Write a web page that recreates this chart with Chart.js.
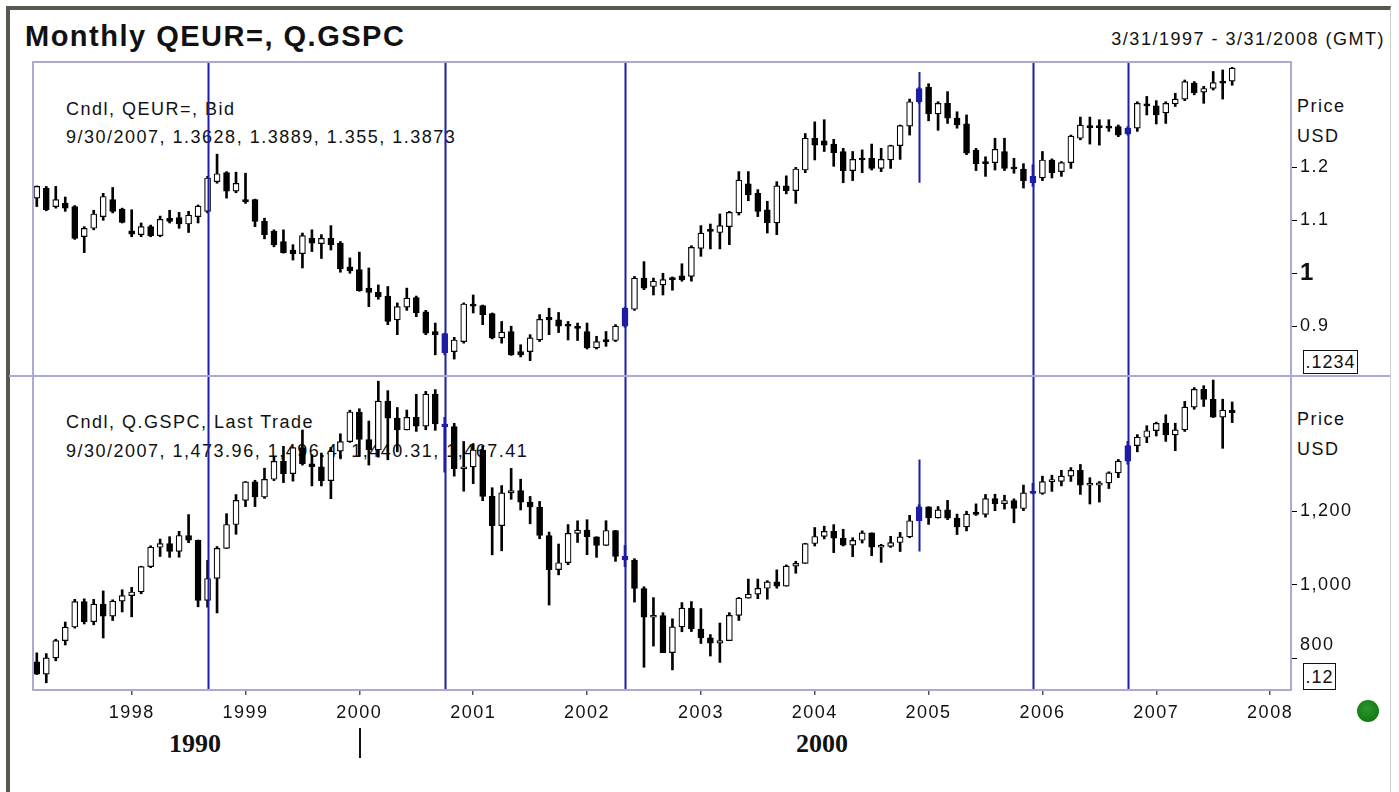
<!DOCTYPE html>
<html>
<head>
<meta charset="utf-8">
<script src="https://cdn.jsdelivr.net/npm/chart.js@4.4.1/dist/chart.umd.min.js"></script>
<style>
  html, body { margin: 0; padding: 0; background: #fff; }
  #page { position: relative; width: 1399px; height: 792px; overflow: hidden;
          font-family: 'Liberation Sans', Arial, sans-serif; color: #111; letter-spacing: 1.5px; }
  .t { position: absolute; white-space: nowrap; line-height: 1; }
  #frame { position: absolute; left: 6px; top: 6px; width: 1380px; height: 800px;
           border-top: 4px solid #58584f; border-left: 4px solid #58584f; border-right: 1px solid #cfcfcf; }
  .box { position: absolute; box-sizing: border-box; border: 1.5px solid #111; font-size: 18px;
         line-height: 1; letter-spacing: 1px; display: flex; align-items: center; justify-content: center; }
  .era { position: absolute; font-family: 'Liberation Serif', 'Times New Roman', serif; font-weight: bold;
         font-size: 26px; line-height: 1; letter-spacing: 0; }
  #chart { position: absolute; left: 0; top: 0; }
</style>
</head>
<body>
<div id="page">
  <div id="frame"></div>
  <div class="t" style="left:25px; top:22px; font-size:29px; font-weight:bold;">Monthly QEUR=, Q.GSPC</div>
  <div class="t" style="right:14px; top:30px; font-size:18px;">3/31/1997 - 3/31/2008 (GMT)</div>

  <div class="t" style="left:66px; top:100px; font-size:18px;">Cndl, QEUR=, Bid</div>
  <div class="t" style="left:66px; top:128px; font-size:18px;">9/30/2007, 1.3628, 1.3889, 1.355, 1.3873</div>
  <div class="t" style="left:66px; top:413px; font-size:18px;">Cndl, Q.GSPC, Last Trade</div>
  <div class="t" style="left:66px; top:442px; font-size:18px;">9/30/2007, 1,473.96, 1,496.4, 1,440.31, 1,467.41</div>

  <div class="t" style="left:1297px; top:97px; font-size:18px;">Price</div>
  <div class="t" style="left:1297px; top:127px; font-size:18px;">USD</div>
  <div class="t" style="left:1297px; top:410px; font-size:18px;">Price</div>
  <div class="t" style="left:1297px; top:440px; font-size:18px;">USD</div>
  <div class="box" style="left:1303px; top:350px; width:55px; height:24px;">.1234</div>
  <div class="box" style="left:1303px; top:663px; width:33px; height:27px;">.12</div>

  <div class="era" style="left:169px; top:731px;">1990</div>
  <div class="era" style="left:796px; top:731px;">2000</div>
  <div style="position:absolute; left:359px; top:728px; width:2px; height:30px; background:#111;"></div>
  <div style="position:absolute; left:1357px; top:700px; width:22px; height:22px; border-radius:50%;
              background: radial-gradient(circle at 45% 40%, #2a9a2a, #0b6a0b);"></div>

  <canvas id="chart" width="1399" height="792"></canvas>
</div>

<script>
// monthly candles, Mar 1997 .. Sep 2007
const eurOpen = [1.142,1.161,1.126,1.132,1.126,1.069,1.085,1.107,1.139,1.121,1.080,1.073,1.088,1.071,1.104,1.105,1.093,1.107,
  1.117,1.173,1.190,1.155,1.139,1.139,1.098,1.079,1.060,1.044,1.037,1.066,1.056,1.066,1.057,1.012,1.007,0.972,0.964,0.957,
  0.912,0.936,0.954,0.927,0.890,0.886,0.852,0.871,0.940,0.939,0.924,0.878,0.890,0.852,0.852,0.874,0.917,0.912,0.903,0.900,
  0.890,0.859,0.874,0.873,0.900,0.932,0.991,0.975,0.978,0.991,0.995,0.994,1.047,1.082,1.077,1.088,1.114,1.169,1.151,1.120,
  1.095,1.165,1.156,1.195,1.255,1.250,1.244,1.230,1.194,1.217,1.217,1.198,1.214,1.241,1.278,1.324,1.351,1.301,1.321,1.293,
  1.282,1.232,1.211,1.209,1.230,1.200,1.197,1.171,1.180,1.214,1.192,1.209,1.255,1.278,1.278,1.278,1.277,1.263,1.274,1.320,
  1.316,1.303,1.320,1.329,1.359,1.342,1.349,1.362,1.3628];
const eurHigh = [1.165,1.164,1.164,1.144,1.128,1.088,1.119,1.151,1.162,1.123,1.120,1.095,1.091,1.108,1.119,1.115,1.117,1.129,
  1.183,1.225,1.192,1.191,1.189,1.140,1.104,1.082,1.082,1.054,1.076,1.082,1.073,1.090,1.060,1.029,1.040,1.010,0.978,0.975,
  0.944,0.972,0.957,0.930,0.906,0.887,0.879,0.944,0.959,0.940,0.925,0.909,0.900,0.865,0.884,0.922,0.934,0.926,0.909,0.906,
  0.906,0.881,0.890,0.903,0.936,0.994,1.022,0.991,1.000,0.993,1.018,1.052,1.090,1.093,1.112,1.117,1.192,1.192,1.158,1.136,
  1.173,1.184,1.200,1.264,1.286,1.290,1.253,1.236,1.230,1.233,1.244,1.236,1.242,1.280,1.329,1.351,1.358,1.324,1.343,1.305,
  1.299,1.236,1.220,1.255,1.255,1.217,1.207,1.205,1.230,1.216,1.211,1.261,1.295,1.295,1.290,1.290,1.280,1.277,1.324,1.334,
  1.326,1.324,1.340,1.365,1.362,1.353,1.381,1.384,1.3889];
const eurLow = [1.126,1.118,1.123,1.117,1.064,1.039,1.082,1.100,1.114,1.095,1.069,1.069,1.069,1.069,1.095,1.085,1.077,1.095,
  1.114,1.170,1.142,1.152,1.132,1.088,1.065,1.050,1.038,1.025,1.010,1.041,1.028,1.044,1.002,1.000,0.966,0.937,0.951,0.903,
  0.884,0.930,0.918,0.884,0.846,0.846,0.838,0.868,0.925,0.903,0.876,0.868,0.845,0.842,0.835,0.871,0.884,0.888,0.874,0.873,
  0.857,0.857,0.862,0.871,0.898,0.930,0.969,0.959,0.959,0.968,0.985,0.985,1.032,1.046,1.046,1.054,1.110,1.137,1.107,1.076,
  1.073,1.150,1.132,1.190,1.214,1.230,1.202,1.171,1.175,1.190,1.195,1.192,1.198,1.215,1.261,1.321,1.288,1.270,1.283,1.274,
  1.224,1.194,1.183,1.195,1.194,1.189,1.161,1.164,1.175,1.180,1.183,1.198,1.252,1.244,1.242,1.268,1.258,1.261,1.268,1.299,
  1.282,1.283,1.315,1.326,1.337,1.321,1.346,1.329,1.355];
const eurClose = [1.164,1.120,1.139,1.123,1.066,1.085,1.112,1.145,1.117,1.096,1.074,1.088,1.071,1.102,1.098,1.093,1.110,1.127,
  1.180,1.188,1.155,1.170,1.135,1.098,1.073,1.054,1.039,1.037,1.071,1.057,1.066,1.054,1.008,1.005,0.967,0.964,0.956,0.909,
  0.937,0.953,0.925,0.887,0.884,0.850,0.874,0.942,0.938,0.922,0.878,0.889,0.846,0.846,0.878,0.913,0.912,0.900,0.900,0.896,
  0.859,0.871,0.871,0.900,0.934,0.991,0.972,0.985,0.988,0.988,0.988,1.049,1.076,1.079,1.090,1.115,1.176,1.148,1.117,1.095,
  1.165,1.156,1.197,1.255,1.242,1.242,1.228,1.194,1.215,1.214,1.198,1.215,1.241,1.279,1.324,1.349,1.301,1.321,1.293,1.280,
  1.227,1.207,1.207,1.234,1.198,1.197,1.175,1.183,1.214,1.190,1.209,1.259,1.280,1.275,1.275,1.274,1.261,1.274,1.321,1.316,
  1.299,1.321,1.329,1.362,1.341,1.349,1.360,1.359,1.3873];

const spxOpen = [790.8,757.1,801.3,848.3,885.1,954.3,899.5,947.3,914.6,955.4,970.4,980.3,1049.3,1101.8,1111.8,1090.8,1133.8,1120.7,
  957.3,1017.0,1098.7,1163.6,1229.2,1279.6,1238.3,1286.4,1335.2,1301.8,1372.7,1328.7,1320.4,1282.7,1362.9,1388.9,1469.3,1394.5,1366.4,1498.6,
  1452.4,1420.6,1454.6,1430.8,1517.7,1436.5,1429.4,1315.0,1320.3,1366.0,1239.9,1160.3,1249.5,1255.8,1224.4,1211.2,1133.6,1040.9,1059.8,1139.5,
  1148.1,1130.2,1106.7,1147.4,1076.9,1067.1,989.8,911.6,916.1,815.3,885.8,936.3,879.8,855.7,841.2,848.2,916.9,963.6,974.5,990.3,
  1008.0,996.0,1050.7,1058.2,1111.9,1131.1,1144.9,1126.2,1107.3,1120.7,1140.8,1101.7,1104.2,1114.6,1130.2,1173.8,1211.9,1181.3,1203.6,1180.6,
  1156.9,1191.5,1191.3,1234.2,1220.3,1228.8,1207.0,1249.5,1248.3,1280.1,1280.7,1294.8,1310.6,1270.1,1270.2,1276.7,1303.8,1335.9,1377.9,1400.6,
  1418.3,1438.2,1406.8,1420.9,1482.4,1530.6,1503.4,1455.3,1473.96];
const spxHigh = [814.9,812.9,851.9,898.7,960.3,961.6,960.4,983.1,959.1,986.3,992.7,1050.3,1105.7,1124.0,1130.5,1145.1,1190.6,1121.5,
  1066.1,1103.8,1193.0,1244.9,1280.4,1283.8,1316.6,1347.8,1376.0,1372.9,1420.3,1353.1,1357.7,1373.2,1410.0,1474.0,1478.0,1444.6,1552.9,1527.2,
  1481.5,1474.5,1517.3,1525.2,1530.1,1454.8,1438.5,1389.1,1383.4,1376.4,1263.5,1269.3,1315.9,1286.6,1239.8,1226.3,1143.0,1110.6,1163.4,1173.6,
  1176.6,1130.2,1173.9,1147.8,1106.6,1070.8,994.5,965.0,924.0,907.4,951.6,954.3,935.1,864.6,895.9,924.2,965.4,1015.3,1015.4,1011.0,
  1040.3,1053.8,1063.7,1112.6,1155.4,1159.0,1163.2,1150.6,1127.7,1146.3,1140.8,1109.7,1131.5,1142.1,1188.5,1217.3,1211.9,1212.4,1229.1,1191.9,
  1199.6,1219.6,1245.2,1245.9,1243.1,1233.3,1270.6,1275.8,1294.9,1297.6,1310.9,1318.2,1326.7,1290.7,1280.4,1306.7,1340.3,1389.5,1407.9,1431.8,
  1441.6,1461.6,1438.9,1498.0,1535.6,1540.6,1555.9,1503.9,1496.4];
const spxLow = [756.1,733.5,793.2,836.3,882.1,893.4,891.0,855.3,902.8,926.0,912.8,975.3,1046.4,1076.7,1074.4,1074.7,1114.3,940.0,
  939.0,923.3,1098.7,1137.0,1212.2,1212.2,1234.6,1282.8,1277.3,1281.4,1324.9,1268.4,1268.4,1233.7,1343.0,1386.8,1350.1,1325.1,1346.6,1339.4,
  1361.1,1420.6,1416.5,1421.0,1419.4,1305.8,1294.9,1254.1,1274.6,1228.3,1081.2,1092.0,1232.0,1203.0,1165.5,1124.9,944.8,1026.8,1054.3,1114.9,
  1081.7,1074.4,1106.7,1063.5,1049.0,952.9,775.7,833.4,815.3,768.6,872.2,872.7,840.3,806.3,788.9,847.9,902.8,963.6,962.1,960.8,
  990.4,996.0,1031.2,1058.2,1105.1,1124.4,1087.2,1105.3,1076.3,1113.3,1078.8,1060.7,1101.3,1090.2,1127.6,1173.8,1163.8,1181.0,1176.9,1136.2,
  1146.2,1188.3,1183.6,1201.1,1205.4,1168.2,1201.1,1246.6,1245.7,1253.6,1268.4,1280.7,1245.3,1219.3,1224.5,1261.3,1290.9,1327.1,1361.0,1385.9,
  1404.0,1389.4,1364.0,1416.4,1476.7,1484.2,1454.3,1370.6,1440.31];
const spxClose = [757.1,801.3,848.3,885.1,954.3,899.5,947.3,914.6,955.4,970.4,980.3,1049.3,1101.8,1111.8,1090.8,1133.8,1120.7,957.3,
  1017.0,1098.7,1163.6,1229.2,1279.6,1238.3,1286.4,1335.2,1301.8,1372.7,1328.7,1320.4,1282.7,1362.9,1388.9,1469.3,1394.5,1366.4,1498.6,1452.4,
  1420.6,1454.6,1430.8,1517.7,1436.5,1429.4,1315.0,1320.3,1366.0,1239.9,1160.3,1249.5,1255.8,1224.4,1211.2,1133.6,1040.9,1059.8,1139.5,1148.1,
  1130.2,1106.7,1147.4,1076.9,1067.1,989.8,911.6,916.1,815.3,885.8,936.3,879.8,855.7,841.2,848.2,916.9,963.6,974.5,990.3,1008.0,
  996.0,1050.7,1058.2,1111.9,1131.1,1144.9,1126.2,1107.3,1120.7,1140.8,1101.7,1104.2,1114.6,1130.2,1173.8,1211.9,1181.3,1203.6,1180.6,1156.9,
  1191.5,1191.3,1234.2,1220.3,1228.8,1207.0,1249.5,1248.3,1280.1,1280.7,1294.8,1310.6,1270.1,1270.2,1276.7,1303.8,1335.9,1377.9,1400.6,1418.3,
  1438.2,1406.8,1420.9,1482.4,1530.6,1503.4,1455.3,1474.0,1467.41];

const yearLabels = ['1998','1999','2000','2001','2002','2003','2004','2005','2006','2007','2008'];
const eurTicks = [0.9, 1, 1.1, 1.2];
const spxTicks = [800, 1000, 1200];

// cursor lines (candle index) and the short one at Dec 2004
const markerIdx = [18, 43, 62, 105, 115];
const shortMarkIdx = 93;
const shortMarkEur = [1.171, 1.380];
const shortMarkSpx = [1090, 1340];
const highlightIdx = [43, 62, 93, 105, 115];

const firstYear = 1997, firstMonth = 3;
const yearTickIdx = yearLabels.map(y => (Number(y) - firstYear) * 12 + (1 - firstMonth));

const FONT = "'Liberation Sans', Arial, sans-serif";
const NAVY = '#1d1da6';
const FRAME = '#aaaad4';
const INK = '#111';

function candleSets(open, high, low, close, axis) {
  const edge = open.map((o, i) => highlightIdx.includes(i) ? NAVY : '#000');
  const fill = open.map((o, i) => highlightIdx.includes(i) ? NAVY : (close[i] >= o ? '#fff' : '#000'));
  return [
    {
      data: open.map((o, i) => ({x: i, y: [o, close[i]]})),
      yAxisID: axis, backgroundColor: fill, borderColor: edge, borderWidth: 1.2,
      borderSkipped: false, barThickness: 6, minBarLength: 2, grouped: false, order: 0
    },
    {
      data: high.map((h, i) => ({x: i, y: [low[i], h]})),
      yAxisID: axis, backgroundColor: edge, borderWidth: 0,
      barThickness: 2, grouped: false, order: 1
    }
  ];
}

const decorations = {
  id: 'decorations',
  beforeDraw(chart) {
    chart.ctx.letterSpacing = '1.5px';
  },
  afterDatasetsDraw(chart) {
    const {ctx, chartArea: a, scales} = chart;
    const xs = scales.x;
    ctx.save();
    ctx.strokeStyle = NAVY;
    ctx.lineWidth = 2;
    markerIdx.forEach(i => {
      const x = Math.round(xs.getPixelForValue(i)) + 0.5;
      ctx.beginPath(); ctx.moveTo(x, a.top); ctx.lineTo(x, a.bottom); ctx.stroke();
    });
    const sx = Math.round(xs.getPixelForValue(shortMarkIdx)) + 0.5;
    ctx.beginPath();
    ctx.moveTo(sx, scales.yEur.getPixelForValue(shortMarkEur[1]));
    ctx.lineTo(sx, scales.yEur.getPixelForValue(shortMarkEur[0]));
    ctx.moveTo(sx, scales.ySpx.getPixelForValue(shortMarkSpx[1]));
    ctx.lineTo(sx, scales.ySpx.getPixelForValue(shortMarkSpx[0]));
    ctx.stroke();
    ctx.restore();
  },
  afterDraw(chart) {
    const {ctx, chartArea: a, scales} = chart;
    ctx.save();
    ctx.strokeStyle = FRAME;
    ctx.lineWidth = 2;
    ctx.strokeRect(a.left, a.top, a.right - a.left, a.bottom - a.top);
    // pane separator runs across the whole window
    const yb = Math.round(scales.yEur.bottom);
    ctx.beginPath(); ctx.moveTo(9, yb); ctx.lineTo(1390, yb); ctx.stroke();
    ctx.restore();
  }
};

const tickFont = {family: FONT, size: 18};

new Chart(document.getElementById('chart').getContext('2d'), {
  type: 'bar',
  data: {
    datasets: [
      ...candleSets(eurOpen, eurHigh, eurLow, eurClose, 'yEur'),
      ...candleSets(spxOpen, spxHigh, spxLow, spxClose, 'ySpx')
    ]
  },
  options: {
    responsive: false,
    animation: false,
    devicePixelRatio: 1,
    layout: { padding: { left: 33, top: 62, right: 39, bottom: 62 } },
    plugins: { legend: { display: false }, tooltip: { enabled: false } },
    scales: {
      x: {
        type: 'linear', min: -0.4, max: 132.2, offset: false,
        afterBuildTicks: s => { s.ticks = yearTickIdx.map(v => ({value: v})); },
        afterFit: s => { s.height = 40; },
        border: { display: false },
        grid: { offset: false, drawOnChartArea: false, drawTicks: true, tickLength: 5, color: '#555', lineWidth: 1.5 },
        ticks: { autoSkip: false, maxRotation: 0, padding: 7, color: INK, font: tickFont,
                 callback: (v, i) => yearLabels[i] }
      },
      yEur: {
        type: 'linear', position: 'right', stack: 'panes', stackWeight: 1,
        min: 0.806, max: 1.399,
        afterBuildTicks: s => { s.ticks = eurTicks.map(v => ({value: v})); },
        afterFit: s => { s.width = 69; },
        border: { display: false },
        grid: { drawOnChartArea: false, tickLength: 6, color: '#000' },
        ticks: {
          autoSkip: false, padding: 3, color: INK,
          font: c => (c.tick && c.tick.value === 1) ? {family: FONT, size: 24, weight: 'bold'} : tickFont,
          callback: v => String(v)
        }
      },
      ySpx: {
        type: 'linear', position: 'right', stack: 'panes', stackWeight: 1,
        min: 714, max: 1567,
        afterBuildTicks: s => { s.ticks = spxTicks.map(v => ({value: v})); },
        afterFit: s => { s.width = 69; },
        border: { display: false },
        grid: { drawOnChartArea: false, tickLength: 6, color: '#000' },
        ticks: {
          autoSkip: false, padding: 3, color: INK,
          font: c => (c.tick && c.tick.value === 800) ? {family: FONT, size: 18, lineHeight: 1.5} : tickFont,
          callback: v => v === 800 ? ['800', ''] : v.toLocaleString('en-US')
        }
      }
    }
  },
  plugins: [decorations]
});
</script>
</body>
</html>
